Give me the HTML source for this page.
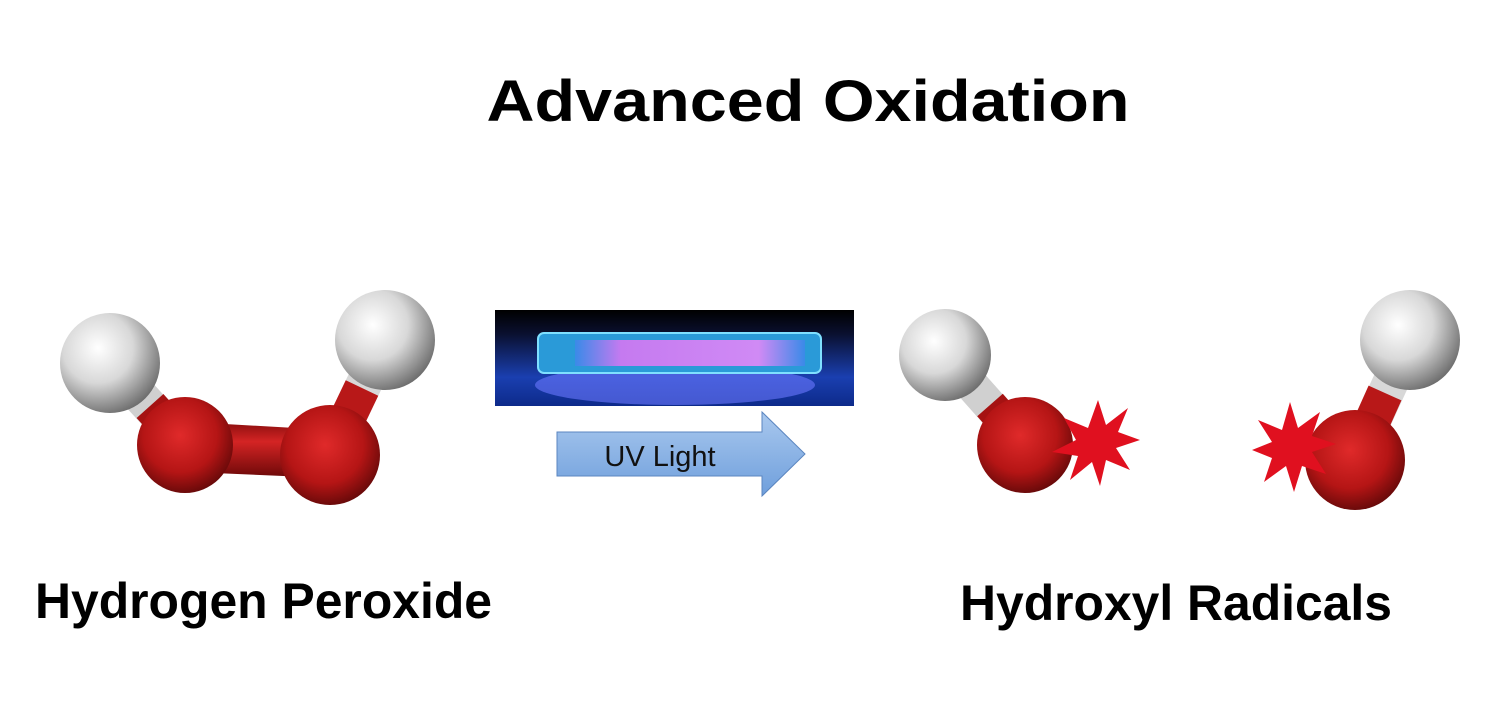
<!DOCTYPE html>
<html><head><meta charset="utf-8"><style>
html,body{margin:0;padding:0;background:#fff;}
svg{display:block;}
text{font-family:"Liberation Sans",Arial,sans-serif;}
</style></head><body>
<svg width="1507" height="714" viewBox="0 0 1507 714" xmlns="http://www.w3.org/2000/svg">
<defs>
<radialGradient id="gw" cx="0.38" cy="0.35" r="0.7">
<stop offset="0" stop-color="#ffffff"/><stop offset="0.5" stop-color="#d8d8d8"/><stop offset="1" stop-color="#6a6a6a"/>
</radialGradient>
<radialGradient id="gr" cx="0.45" cy="0.4" r="0.7">
<stop offset="0" stop-color="#e02a2a"/><stop offset="0.55" stop-color="#b51515"/><stop offset="1" stop-color="#4a0505"/>
</radialGradient>
<linearGradient id="bondr" x1="0" y1="0" x2="0" y2="1">
<stop offset="0" stop-color="#8a0e0e"/><stop offset="0.35" stop-color="#d42424"/><stop offset="1" stop-color="#6a0808"/>
</linearGradient>
<linearGradient id="lamp" x1="0" y1="0" x2="0" y2="1">
<stop offset="0" stop-color="#000"/><stop offset="0.25" stop-color="#0a1030"/><stop offset="0.7" stop-color="#1a3fb0"/><stop offset="1" stop-color="#0d2a8a"/>
</linearGradient>
<linearGradient id="tube" x1="0" y1="0" x2="1" y2="0">
<stop offset="0" stop-color="#3a8ae8"/><stop offset="0.2" stop-color="#c57af0"/><stop offset="0.8" stop-color="#d08af5"/><stop offset="1" stop-color="#3a8ae8"/>
</linearGradient>
<linearGradient id="arr" x1="0" y1="0" x2="0" y2="1">
<stop offset="0" stop-color="#a9c8ee"/><stop offset="1" stop-color="#6f9fdc"/>
</linearGradient>
</defs>

<text x="808" y="121" text-anchor="middle" font-size="58" font-weight="bold" textLength="643" lengthAdjust="spacingAndGlyphs">Advanced Oxidation</text>

<!-- Hydrogen peroxide -->
<line x1="110" y1="363" x2="185" y2="445" stroke="#d0d0d0" stroke-width="36"/>
<line x1="150" y1="406" x2="185" y2="445" stroke="#a51212" stroke-width="36"/>
<line x1="385" y1="340" x2="330" y2="455" stroke="#d8d8d8" stroke-width="36"/>
<line x1="362" y1="388" x2="330" y2="455" stroke="#b81818" stroke-width="36"/>
<polygon points="190,422 330,430 330,478 190,472" fill="url(#bondr)"/>
<circle cx="185" cy="445" r="48" fill="url(#gr)"/>
<circle cx="330" cy="455" r="50" fill="url(#gr)"/>
<circle cx="110" cy="363" r="50" fill="url(#gw)"/>
<circle cx="385" cy="340" r="50" fill="url(#gw)"/>

<!-- Lamp -->
<rect x="495" y="310" width="359" height="96" fill="url(#lamp)"/>
<ellipse cx="675" cy="385" rx="140" ry="20" fill="#6a78ff" opacity="0.6"/>
<rect x="538" y="333" width="283" height="40" rx="6" fill="#2a9ad8" stroke="#7fe0ff" stroke-width="2"/>
<rect x="575" y="340" width="230" height="26" fill="url(#tube)"/>

<!-- Arrow -->
<polygon points="557,432 762,432 762,412 805,454 762,496 762,476 557,476" fill="url(#arr)" stroke="#5b86c0" stroke-width="1"/>
<text x="660" y="466" text-anchor="middle" font-size="29" fill="#111">UV Light</text>

<!-- Right hydroxyl 1 -->
<line x1="945" y1="355" x2="1025" y2="445" stroke="#d0d0d0" stroke-width="34"/>
<line x1="990" y1="405" x2="1025" y2="445" stroke="#a51212" stroke-width="34"/>
<circle cx="1025" cy="445" r="48" fill="url(#gr)"/>
<circle cx="945" cy="355" r="46" fill="url(#gw)"/>
<polygon fill="#e0101f" points="1098,400 1106,425 1128,408 1118,432 1140,440 1116,448 1130,470 1106,460 1100,486 1092,462 1070,480 1078,456 1052,452 1076,440 1064,418 1088,428"/>

<!-- Right hydroxyl 2 -->
<line x1="1410" y1="340" x2="1355" y2="460" stroke="#d8d8d8" stroke-width="36"/>
<line x1="1385" y1="393" x2="1355" y2="460" stroke="#b81818" stroke-width="36"/>
<circle cx="1355" cy="460" r="50" fill="url(#gr)"/>
<circle cx="1410" cy="340" r="50" fill="url(#gw)"/>
<polygon fill="#e0101f" points="1290,402 1298,428 1320,412 1312,436 1336,444 1312,452 1326,474 1302,466 1294,492 1286,466 1264,482 1272,458 1252,450 1272,442 1258,420 1282,430"/>

<text x="35" y="618" font-size="50" font-weight="bold" textLength="457" lengthAdjust="spacingAndGlyphs">Hydrogen Peroxide</text>
<text x="960" y="620" font-size="50" font-weight="bold" textLength="432" lengthAdjust="spacingAndGlyphs">Hydroxyl Radicals</text>
</svg>
</body></html>
